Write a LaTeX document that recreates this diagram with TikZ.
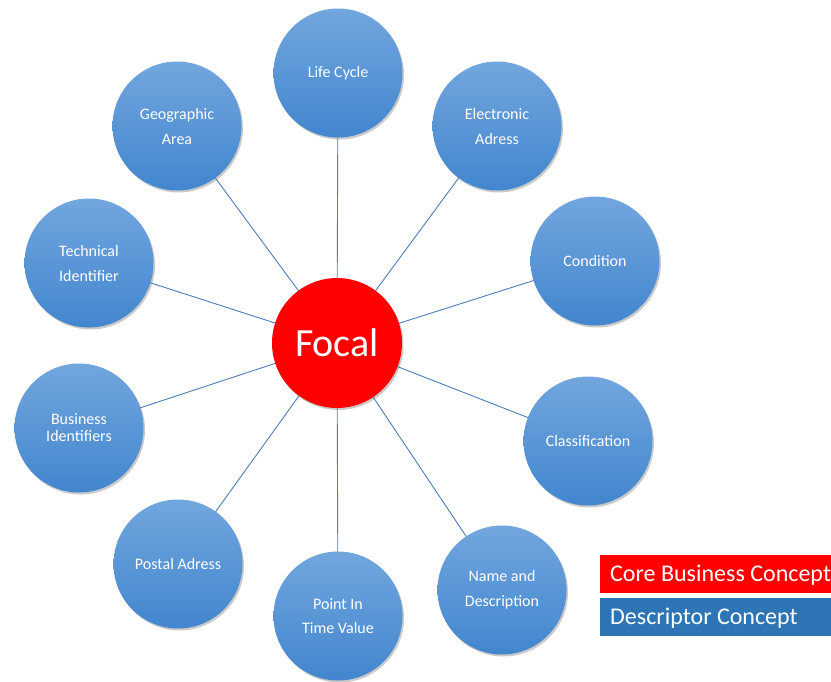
\documentclass[tikz,border=0pt]{standalone}
\usepackage{fontspec}
\setmainfont{Carlito}
\usetikzlibrary{shadows}
\definecolor{linkblue}{RGB}{74,126,187}
\definecolor{ctop}{RGB}{114,166,222}
\definecolor{cbot}{RGB}{66,134,206}
\definecolor{legblue}{RGB}{46,117,182}
\begin{document}
\begin{tikzpicture}[x=1pt,y=-1pt,
  desc/.style={circle,minimum size=129pt,inner sep=0pt,top color=ctop,bottom color=cbot,
    draw=none,text=white,font=\fontsize{16}{17}\selectfont,align=center,
    drop shadow={shadow xshift=1.5pt,shadow yshift=-2pt,opacity=0.35,fill=black!60}},
  focal/.style={circle,minimum size=130pt,inner sep=0pt,fill=red,text=white,
    font=\fontsize{40}{42}\selectfont,
    drop shadow={shadow xshift=1.5pt,shadow yshift=-2pt,opacity=0.35,fill=black!60}},
  link/.style={draw=linkblue,line width=0.9pt},
  legend/.style={anchor=north west,minimum width=231pt,minimum height=38pt,inner sep=0pt},
  legtext/.style={anchor=west,text=white,font=\fontsize{24}{26}\selectfont,inner sep=0pt}]
\useasboundingbox (0,0) rectangle (831,681);
\coordinate (fc) at (337,343);
\coordinate (c1) at (338,73);
\coordinate (c2) at (497,126);
\coordinate (c3) at (595,261);
\coordinate (c4) at (588,441);
\coordinate (c5) at (502,590);
\coordinate (c6) at (338,616);
\coordinate (c7) at (178,564);
\coordinate (c8) at (79,428);
\coordinate (c9) at (89,263);
\coordinate (c10) at (177,126);
\foreach \i in {1,...,10} {\draw[link] (fc) -- (c\i);}
\node[desc] (lc) at (c1) {Life Cycle};
\node[desc] (ea) at (c2) {Electronic\\[8pt]Adress};
\node[desc] (co) at (c3) {Condition};
\node[desc] (cl) at (c4) {Classification};
\node[desc] (nd) at (c5) {Name and\\[8pt]Description};
\node[desc] (pt) at (c6) {Point In\\[7pt]Time Value};
\node[desc] (pa) at (c7) {Postal Adress};
\node[desc] (bi) at (c8) {Business\\Identifiers};
\node[desc] (ti) at (c9) {Technical\\[8pt]Identifier};
\node[desc] (ga) at (c10) {Geographic\\[8pt]Area};
\node[focal] (f) at (fc) {Focal};
\node[legend,fill=red] (l1) at (600,555) {};
\node[legend,fill=legblue] (l2) at (600,598) {};
\node[legtext] (t1) at ([xshift=10pt,yshift=-1pt]l1.west) {Core Business Concept};
\node[legtext] (t2) at ([xshift=10pt,yshift=-1pt]l2.west) {Descriptor Concept};
\end{tikzpicture}
\end{document}
